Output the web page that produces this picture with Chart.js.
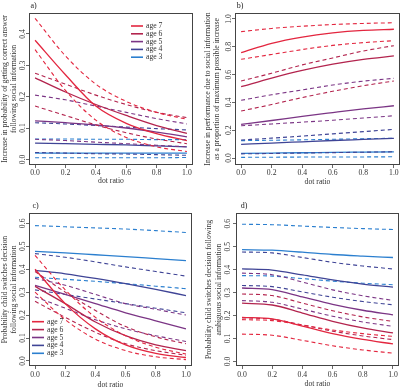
<!DOCTYPE html>
<html lang="en">
<head>
  <meta charset="UTF-8">
  <title>Social information by age and dot ratio</title>
  <script src="https://cdn.jsdelivr.net/npm/chart.js@4.4.1/dist/chart.umd.min.js"></script>
  <style>
    body { margin: 0; background: #fff; width: 405px; height: 391px; position: relative; overflow: hidden; }
    .panel { position: absolute; }
  </style>
</head>
<body>
  <div class="panel" style="left:0;top:0"><canvas id="chartA" width="200" height="192"></canvas></div>
  <div class="panel" style="left:200px;top:0"><canvas id="chartB" width="205" height="192"></canvas></div>
  <div class="panel" style="left:0;top:195px"><canvas id="chartC" width="200" height="196"></canvas></div>
  <div class="panel" style="left:200px;top:195px"><canvas id="chartD" width="205" height="196"></canvas></div>

  <script>
    const dotRatio = [0, 0.2, 0.4, 0.6, 0.8, 1.0];
    const xTicks = [0, 0.2, 0.4, 0.6, 0.8, 1.0];
    const ageLabels = ['age 7', 'age 6', 'age 5', 'age 4', 'age 3'];
    const ageColours = ['#e3263f', '#b3244e', '#7b3585', '#3f4496', '#2b7fcf'];

    // a) increase in probability of correct answer
    const aTicks = [0, 0.1, 0.2, 0.3, 0.4];
    const a7 = [0.38, 0.27, 0.17, 0.115, 0.082, 0.06];
    const a7hi = [0.45, 0.33, 0.24, 0.185, 0.15, 0.128];
    const a7lo = [0.35, 0.22, 0.125, 0.07, 0.04, 0.025];
    const a6 = [0.26, 0.215, 0.175, 0.14, 0.108, 0.083];
    const a6hi = [0.275, 0.24, 0.205, 0.175, 0.15, 0.133];
    const a6lo = [0.17, 0.14, 0.11, 0.085, 0.065, 0.05];
    const a5 = [0.123, 0.117, 0.11, 0.1, 0.087, 0.072];
    const a5hi = [0.205, 0.19, 0.17, 0.15, 0.13, 0.113];
    const a5lo = [0.064, 0.06, 0.055, 0.05, 0.045, 0.04];
    const a4 = [0.052, 0.05, 0.048, 0.046, 0.043, 0.04];
    const a4hi = [0.117, 0.113, 0.108, 0.103, 0.098, 0.094];
    const a4lo = [0.022, 0.02, 0.018, 0.017, 0.015, 0.013];
    const a3 = [0.02, 0.02, 0.02, 0.02, 0.02, 0.02];
    const a3hi = [0.065, 0.065, 0.064, 0.064, 0.063, 0.063];
    const a3lo = [0.005, 0.005, 0.005, 0.005, 0.005, 0.006];

    // b) increase as proportion of maximum possible
    const bTicks = [0, 0.2, 0.4, 0.6, 0.8, 1.0];
    const b7 = [0.758, 0.825, 0.87, 0.9, 0.918, 0.926];
    const b7hi = [0.909, 0.932, 0.948, 0.96, 0.968, 0.973];
    const b7lo = [0.71, 0.745, 0.78, 0.81, 0.83, 0.844];
    const b6 = [0.513, 0.575, 0.63, 0.675, 0.71, 0.734];
    const b6hi = [0.554, 0.61, 0.67, 0.72, 0.77, 0.808];
    const b6lo = [0.338, 0.385, 0.435, 0.48, 0.52, 0.554];
    const b5 = [0.242, 0.27, 0.3, 0.327, 0.353, 0.376];
    const b5hi = [0.415, 0.455, 0.49, 0.525, 0.553, 0.573];
    const b5lo = [0.232, 0.245, 0.258, 0.272, 0.288, 0.304];
    const b4 = [0.098, 0.108, 0.117, 0.126, 0.134, 0.142];
    const b4hi = [0.13, 0.143, 0.158, 0.174, 0.19, 0.206];
    const b4lo = [0.03, 0.033, 0.036, 0.039, 0.042, 0.045];
    const b3 = [0.034, 0.036, 0.038, 0.041, 0.043, 0.045];
    const b3hi = [0.125, 0.128, 0.131, 0.135, 0.139, 0.142];
    const b3lo = [0.005, 0.006, 0.007, 0.007, 0.008, 0.009];

    // c) probability of switching, unambiguous
    const cTicks = [0, 0.1, 0.2, 0.3, 0.4, 0.5, 0.6];
    const c7 = [0.40, 0.25, 0.14, 0.07, 0.033, 0.015];
    const c7hi = [0.46, 0.31, 0.19, 0.11, 0.06, 0.03];
    const c7lo = [0.30, 0.18, 0.095, 0.045, 0.018, 0.006];
    const c6 = [0.325, 0.25, 0.17, 0.11, 0.07, 0.045];
    const c6hi = [0.39, 0.30, 0.22, 0.15, 0.105, 0.075];
    const c6lo = [0.26, 0.19, 0.125, 0.075, 0.045, 0.025];
    const c5 = [0.33, 0.29, 0.25, 0.21, 0.175, 0.14];
    const c5hi = [0.36, 0.33, 0.29, 0.25, 0.225, 0.2];
    const c5lo = [0.28, 0.23, 0.18, 0.14, 0.11, 0.085];
    const c4 = [0.395, 0.38, 0.36, 0.337, 0.312, 0.285];
    const c4hi = [0.468, 0.452, 0.432, 0.41, 0.39, 0.37];
    const c4lo = [0.31, 0.29, 0.27, 0.25, 0.23, 0.21];
    const c3 = [0.478, 0.471, 0.463, 0.455, 0.446, 0.437];
    const c3hi = [0.59, 0.585, 0.58, 0.575, 0.568, 0.56];
    const c3lo = [0.365, 0.356, 0.347, 0.337, 0.326, 0.315];

    // d) probability of switching, ambiguous
    const dTicks = [0, 0.1, 0.2, 0.3, 0.4, 0.5, 0.6];
    const d7 = [0.192, 0.185, 0.154, 0.121, 0.096, 0.076];
    const d7hi = [0.182, 0.178, 0.158, 0.137, 0.121, 0.109];
    const d7lo = [0.119, 0.114, 0.092, 0.068, 0.05, 0.036];
    const d6 = [0.254, 0.246, 0.211, 0.175, 0.146, 0.124];
    const d6hi = [0.294, 0.287, 0.254, 0.221, 0.194, 0.174];
    const d6lo = [0.19, 0.184, 0.159, 0.132, 0.111, 0.095];
    const d5 = [0.32, 0.313, 0.281, 0.249, 0.223, 0.203];
    const d5hi = [0.385, 0.378, 0.346, 0.312, 0.286, 0.266];
    const d5lo = [0.265, 0.258, 0.228, 0.197, 0.172, 0.153];
    const d4 = [0.403, 0.398, 0.377, 0.355, 0.337, 0.324];
    const d4hi = [0.477, 0.473, 0.453, 0.432, 0.416, 0.403];
    const d4lo = [0.331, 0.326, 0.303, 0.28, 0.261, 0.247];
    const d3 = [0.487, 0.485, 0.476, 0.466, 0.459, 0.453];
    const d3hi = [0.598, 0.596, 0.59, 0.584, 0.579, 0.575];
    const d3lo = [0.374, 0.372, 0.361, 0.35, 0.341, 0.334];

    Chart.defaults.font.family = '"Liberation Serif", "DejaVu Serif", serif';
    Chart.defaults.font.size = 7.7;
    Chart.defaults.color = '#333';

    const FONT = '"Liberation Serif", serif';

    // box round the plot, panel letter and the in-plot legend
    const framePlugin = {
      id: 'frame',
      afterDraw(chart, args, o) {
        const { ctx, chartArea: a } = chart;
        ctx.save();
        ctx.strokeStyle = '#444';
        ctx.lineWidth = 1;
        ctx.strokeRect(Math.round(a.left) + 0.5, Math.round(a.top) + 0.5,
          Math.round(a.right - a.left) - 1, Math.round(a.bottom - a.top) - 1);
        ctx.fillStyle = '#222';
        ctx.font = '8px ' + FONT;
        ctx.textAlign = 'center';
        ctx.textBaseline = 'middle';
        ctx.fillText(o.tag, o.tagX, o.tagY);
        if (o.legend) {
          ctx.textAlign = 'left';
          ctx.font = '7.7px ' + FONT;
          ageLabels.forEach((lab, i) => {
            const y = o.legend.y + i * o.legend.step;
            ctx.strokeStyle = ageColours[i];
            ctx.lineWidth = 1.6;
            ctx.beginPath();
            ctx.moveTo(o.legend.x, y);
            ctx.lineTo(o.legend.x + 12, y);
            ctx.stroke();
            ctx.fillStyle = '#333';
            ctx.fillText(lab, o.legend.x + 15, y);
          });
        }
        ctx.restore();
      }
    };

    function pts(vals) {
      return dotRatio.map((x, i) => ({ x: x, y: vals[i] }));
    }

    function makeSets(groups) {
      const sets = [];
      groups.forEach((g, i) => {
        sets.push({ label: ageLabels[i], data: pts(g[0]), borderColor: ageColours[i], borderWidth: 1.3 });
        sets.push({ label: ageLabels[i] + ' upper', data: pts(g[1]), borderColor: ageColours[i], borderWidth: 1.1, borderDash: [4, 3] });
        sets.push({ label: ageLabels[i] + ' lower', data: pts(g[2]), borderColor: ageColours[i], borderWidth: 1.1, borderDash: [4, 3] });
      });
      return sets;
    }

    function makeChart(id, groups, cfg) {
      new Chart(document.getElementById(id), {
        type: 'line',
        data: { datasets: makeSets(groups) },
        plugins: [framePlugin],
        options: {
          responsive: false,
          animation: false,
          devicePixelRatio: 1,
          layout: { padding: { top: cfg.top, right: cfg.right, left: 0, bottom: 0 } },
          elements: { point: { radius: 0 }, line: { cubicInterpolationMode: 'monotone', fill: false } },
          plugins: {
            legend: { display: false },
            tooltip: { enabled: false },
            frame: { tag: cfg.tag, tagX: cfg.tagX, tagY: cfg.tagY, legend: cfg.legend }
          },
          scales: {
            x: {
              type: 'linear', min: -0.04, max: 1.04,
              afterBuildTicks: s => { s.ticks = xTicks.map(v => ({ value: v })); },
              afterFit: s => { s.height = cfg.xh; },
              ticks: { maxRotation: 0, minRotation: 0, autoSkip: false, padding: cfg.xPad, callback: v => v.toFixed(1) },
              grid: { drawOnChartArea: false, drawTicks: true, tickLength: 3, color: '#444', lineWidth: 0.8 },
              border: { display: false },
              title: { display: true, text: 'dot ratio', padding: { top: 0, bottom: cfg.xTitlePad } }
            },
            y: {
              type: 'linear', min: cfg.yMin, max: cfg.yMax,
              afterBuildTicks: s => { s.ticks = cfg.yTicks.map(v => ({ value: v })); },
              afterFit: s => { s.width = cfg.yw; },
              ticks: { minRotation: 90, maxRotation: 90, crossAlign: 'center', autoSkip: false, padding: cfg.yPad, callback: v => v.toFixed(1) },
              grid: { drawOnChartArea: false, drawTicks: true, tickLength: 3, color: '#444', lineWidth: 0.8 },
              border: { display: false },
              title: { display: true, text: cfg.yTitle, padding: { top: cfg.yTitlePad, bottom: 0 } }
            }
          }
        }
      });
    }

    makeChart('chartA',
      [[a7, a7hi, a7lo], [a6, a6hi, a6lo], [a5, a5hi, a5lo], [a4, a4hi, a4lo], [a3, a3hi, a3lo]],
      { top: 13, right: 7, yw: 29, xh: 27, xPad: 0, xTitlePad: 6.4, yPad: -1.5, yTitlePad: 0,
        yMin: -0.018, yMax: 0.467, yTicks: aTicks,
        yTitle: ['Increase in probability of getting correct answer', 'following social information'],
        tag: 'a)', tagX: 33.5, tagY: 6, legend: { x: 131, y: 26, step: 7.8 } });

    makeChart('chartB',
      [[b7, b7hi, b7lo], [b6, b6hi, b6lo], [b5, b5hi, b5lo], [b4, b4hi, b4lo], [b3, b3hi, b3lo]],
      { top: 13, right: 5, yw: 35, xh: 27, xPad: 0, xTitlePad: 5.6, yPad: -1.3, yTitlePad: 3.4,
        yMin: -0.05, yMax: 1.043, yTicks: bTicks,
        yTitle: ['Increase in performance due to social information', 'as a proportion of maximum possible increase'],
        tag: 'b)', tagX: 40, tagY: 5.5 });

    makeChart('chartC',
      [[c7, c7hi, c7lo], [c6, c6hi, c6lo], [c5, c5hi, c5lo], [c4, c4hi, c4lo], [c3, c3hi, c3lo]],
      { top: 18, right: 8, yw: 29, xh: 25, xPad: 1.4, xTitlePad: 1.4, yPad: -1.5, yTitlePad: 0,
        yMin: -0.022, yMax: 0.645, yTicks: cTicks,
        yTitle: ['Probability child switches decision', 'following social information'],
        tag: 'c)', tagX: 35.5, tagY: 10.5, legend: { x: 32, y: 126.7, step: 7.9 } });

    makeChart('chartD',
      [[d7, d7hi, d7lo], [d6, d6hi, d6lo], [d5, d5hi, d5lo], [d4, d4hi, d4lo], [d3, d3hi, d3lo]],
      { top: 18, right: 6, yw: 36, xh: 25, xPad: 1.4, xTitlePad: 2.4, yPad: 0, yTitlePad: 4.7,
        yMin: -0.02, yMax: 0.647, yTicks: dTicks,
        yTitle: ['Probability child switches decision following', 'ambiguous social information'],
        tag: 'd)', tagX: 44, tagY: 10.5 });
  </script>
</body>
</html>
